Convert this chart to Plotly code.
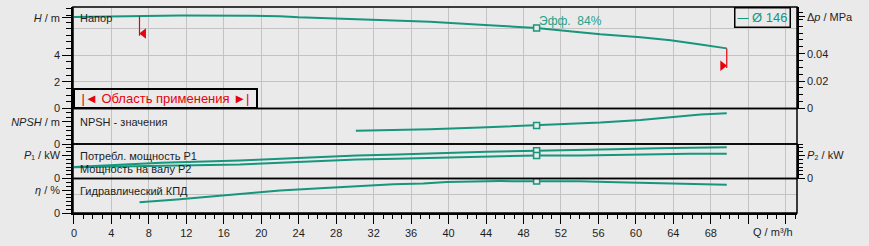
import numpy as np
import plotly.graph_objects as go

# ---------------- data ----------------
Q_head = [0, 6, 11.3, 19, 22, 24, 27.4, 32.7, 38, 43.4, 49.4, 54, 56.2, 60.5, 63.7, 66.9, 69.7]
H_head = [6.87, 6.93, 6.99, 6.97, 6.94, 6.86, 6.79, 6.67, 6.52, 6.30, 6.05, 5.74, 5.58, 5.36, 5.13, 4.81, 4.52]

Q_npsh = [30.1, 32.7, 38, 43.4, 49.4, 54.1, 56.2, 60.5, 63.7, 66.9, 69.7]
NPSH = [2.96, 3.04, 3.33, 3.71, 4.16, 4.60, 4.82, 5.40, 6.00, 6.67, 6.96]

Q_p1 = [0, 9.3, 17.7, 22, 25.5, 30.2, 34.5, 39.1, 44.1, 49.4, 54.1, 57.6, 62.3, 66.9, 69.7]
P1 = [0.50, 0.69, 0.78, 0.86, 0.93, 1.00, 1.04, 1.11, 1.16, 1.21, 1.23, 1.27, 1.32, 1.36, 1.36]

Q_p2 = [0, 7, 17.7, 22, 25.5, 30.2, 34.5, 39.1, 44.1, 49.4, 54.1, 57.6, 65.8, 69.7]
P2 = [0.49, 0.54, 0.61, 0.69, 0.76, 0.83, 0.86, 0.90, 0.94, 1.00, 1.00, 1.03, 1.08, 1.08]

Q_eff = [7, 11, 17.7, 22, 26.3, 30.2, 34.1, 37.3, 39.8, 45.5, 49.4, 54, 58, 63, 68.3, 69.7]
EFF = [28.6, 35.6, 50, 59, 65, 70, 76, 78, 82, 84, 84, 83.5, 81, 78.5, 76, 74.5]

Q_min, Q_max = 7.0, 69.7      # application range limits
Q_op = 49.4                   # best efficiency point
EFF_OP = 84
DIAMETER = 146

x_tickvals = list(range(0, 77, 4))
x_ticktext = [str(v) if v <= 68 else "" for v in x_tickvals]

h_tickvals = [0, 2, 4, 6.81]
h_ticktext = ["0", "2", "4", "<i>H</i> / m"]
dp_tickvals = [0, 0.02, 0.04, 0.0669]
dp_ticktext = ["0", "0.02", "0.04", "Δ<i>p</i> / MPa"]
npsh_tickvals = [0, 5]
npsh_ticktext = ["0", "<i>NPSH</i> / m"]
p1_tickvals = [0, 1.0]
p1_ticktext = ["0", "<i>P</i>₁ / kW"]
p2_tickvals = [0, 1.0]
p2_ticktext = ["0", "<i>P</i>₂ / kW"]
eff_tickvals = [0, 60]
eff_ticktext = ["0", "<i>η</i> / %"]

# ---------------- style / layout constants ----------------
W, HGT = 869, 246
ML, MR, MT, MB = 73, 72, 7, 30
PLOT_H = HGT - MT - MB


def frac(px):
    return (HGT - MB - px) / PLOT_H


dom_H = [frac(110), 1]
dom_N = [frac(146), frac(110)]
dom_P = [frac(181), frac(146)]
dom_E = [0, frac(181)]

TEAL = "#16967d"
RED = "#e8000b"
BG = "#eaeaea"
GRID = "#c3c3c3"
FONT = "Liberation Sans, Arial, sans-serif"
TXT = "#1e1e1e"

fig = go.Figure()


def line(x, y, ax):
    fig.add_trace(go.Scatter(x=x, y=y, yaxis=ax, mode="lines",
                             line=dict(color=TEAL, width=2),
                             showlegend=False, hoverinfo="skip"))


def opmark(yarr, xarr, ax):
    fig.add_trace(go.Scatter(x=[Q_op], y=[float(np.interp(Q_op, xarr, yarr))], yaxis=ax,
                             mode="markers",
                             marker=dict(symbol="square", size=6, color=BG,
                                         line=dict(color=TEAL, width=1.5)),
                             showlegend=False, hoverinfo="skip"))


line(Q_head, H_head, "y")
line(Q_npsh, NPSH, "y4")
line(Q_p1, P1, "y5")
line(Q_p2, P2, "y5")
line(Q_eff, EFF, "y7")
opmark(H_head, Q_head, "y")
opmark(NPSH, Q_npsh, "y4")
opmark(P1, Q_p1, "y5")
opmark(P2, Q_p2, "y5")
opmark(EFF, Q_eff, "y7")

# application-range limit markers
h_min = float(np.interp(Q_min, Q_head, H_head))
h_max = float(np.interp(Q_max, Q_head, H_head))
for q, h, sym, dq in [(Q_min, h_min, "triangle-left", 0.45), (Q_max, h_max, "triangle-right", -0.45)]:
    fig.add_trace(go.Scatter(x=[q, q], y=[h, h - 1.48], yaxis="y", mode="lines",
                             line=dict(color=RED, width=1.2), showlegend=False, hoverinfo="skip"))
    fig.add_trace(go.Scatter(x=[q + dq], y=[h - 1.3], yaxis="y", mode="markers",
                             marker=dict(symbol=sym, size=9, color=RED, line=dict(width=0)),
                             showlegend=False, hoverinfo="skip"))

# empty traces so that overlay axes exist
for ax in ["y2", "y3", "y6", "y8"]:
    fig.add_trace(go.Scatter(x=[], y=[], yaxis=ax, showlegend=False, hoverinfo="skip"))

tickfont = dict(family=FONT, size=11, color=TXT)


def yax(domain, rng, tv, tt, minor_dt, side="left", overlay=None, ticklen=9, mlen=5):
    d = dict(range=rng, autorange=False, tickmode="array", tickvals=tv, ticktext=tt,
             ticks="outside", ticklen=ticklen, tickcolor="black", tickwidth=1,
             showgrid=False, zeroline=False, showline=True, linecolor="black", linewidth=1.5,
             tickfont=tickfont, side=side, anchor="x", fixedrange=True,
             minor=dict(tickmode="linear", tick0=0, dtick=minor_dt, ticks="outside",
                        ticklen=mlen, tickcolor="black", showgrid=False))
    if overlay:
        d["overlaying"] = overlay
    else:
        d["domain"] = domain
    return d


def gridax(rng, tv, overlay):
    return dict(range=rng, autorange=False, tickmode="array", tickvals=tv,
                showticklabels=False, ticks="", showgrid=True, gridcolor=GRID, gridwidth=1,
                zeroline=False, showline=False, overlaying=overlay, anchor="x", fixedrange=True)


H_RNG = [0, 7.63]
DP_RNG = [0, 0.074]
N_RNG = [0, 8]
P_RNG = [0, 1.5]
E_RNG = [0, 90.9]

fig.update_layout(
    width=W, height=HGT,
    margin=dict(l=ML, r=MR, t=MT, b=MB, pad=0),
    paper_bgcolor=BG, plot_bgcolor=BG,
    font=dict(family=FONT, size=11, color=TXT),
    xaxis=dict(range=[-0.1, 77.2], autorange=False, tickmode="array", tickvals=x_tickvals,
               ticktext=x_ticktext, ticks="outside", ticklen=9, tickcolor="black",
               showgrid=True, gridcolor=GRID, gridwidth=1, zeroline=False,
               showline=True, linecolor="black", linewidth=1.5, anchor="y7",
               tickfont=tickfont, fixedrange=True,
               minor=dict(tickmode="linear", tick0=0, dtick=1, ticks="outside", ticklen=4,
                          tickcolor="black", showgrid=False)),
    yaxis=yax(dom_H, H_RNG, h_tickvals, h_ticktext, 0.5),
    yaxis2=yax(None, DP_RNG, dp_tickvals, dp_ticktext, 0.005, side="right", overlay="y",
               ticklen=6, mlen=4),
    yaxis3=gridax(H_RNG, [2, 4, 6], "y"),
    yaxis4=yax(dom_N, N_RNG, npsh_tickvals, npsh_ticktext, 1),
    yaxis5=yax(dom_P, P_RNG, p1_tickvals, p1_ticktext, 1.5 / 9),
    yaxis6=yax(None, P_RNG, p2_tickvals, p2_ticktext, 1.5 / 9, side="right", overlay="y5",
               ticklen=6, mlen=4),
    yaxis7=yax(dom_E, E_RNG, eff_tickvals, eff_ticktext, 10),
    yaxis8=gridax(E_RNG, [50], "y7"),
)

# panel frames
shapes = []
for ax in ["y", "y4", "y5", "y7"]:
    shapes.append(dict(type="rect", xref="paper", yref=f"{ax} domain", x0=0, x1=1, y0=0, y1=1,
                       line=dict(color="black", width=1.5), layer="above"))
fig.update_layout(shapes=shapes)

ann = []
# curve labels
for text, ax, yf in [("Напор", "y", 0.888), ("NPSH - значения", "y4", 0.61),
                     ("Потребл. мощность P1", "y5", 0.65), ("Мощность на валу P2", "y5", 0.266),
                     ("Гидравлический КПД", "y7", 0.65)]:
    ann.append(dict(text=text, xref="paper", x=0, xanchor="left", xshift=5,
                    yref=f"{ax} domain", y=yf, yanchor="middle", showarrow=False,
                    font=dict(family=FONT, size=11, color=TXT)))
# efficiency text
ann.append(dict(text=f"Эфф.  {EFF_OP}%", x=Q_op, xanchor="left", xshift=0,
                y=float(np.interp(Q_op, Q_head, H_head)) + 0.54, yref="y", yanchor="middle",
                showarrow=False, font=dict(family=FONT, size=12, color="#2aa088")))
# legend box
ann.append(dict(text=f"— Ø {DIAMETER}", xref="paper", x=1, xanchor="right", xshift=-6,
                yref="y domain", y=1, yanchor="top", showarrow=False,
                bordercolor="black", borderwidth=1.5, borderpad=2, width=50, height=14,
                align="right", font=dict(family=FONT, size=13, color=TEAL)))
# application range box
ann.append(dict(text="|◄ Область применения ►|", xref="paper", x=0, xanchor="left",
                yref="y domain", y=0, yanchor="bottom", showarrow=False,
                bordercolor="black", borderwidth=2, borderpad=1, width=179, height=15,
                font=dict(family=FONT, size=13, color=RED)))
# x axis title
ann.append(dict(text="Q / m³/h", x=74.6, xref="x", yref="paper", y=0, yanchor="top",
                yshift=-11, showarrow=False, font=dict(family=FONT, size=11, color=TXT)))
fig.update_layout(annotations=ann)

fig.write_html("out.html")
